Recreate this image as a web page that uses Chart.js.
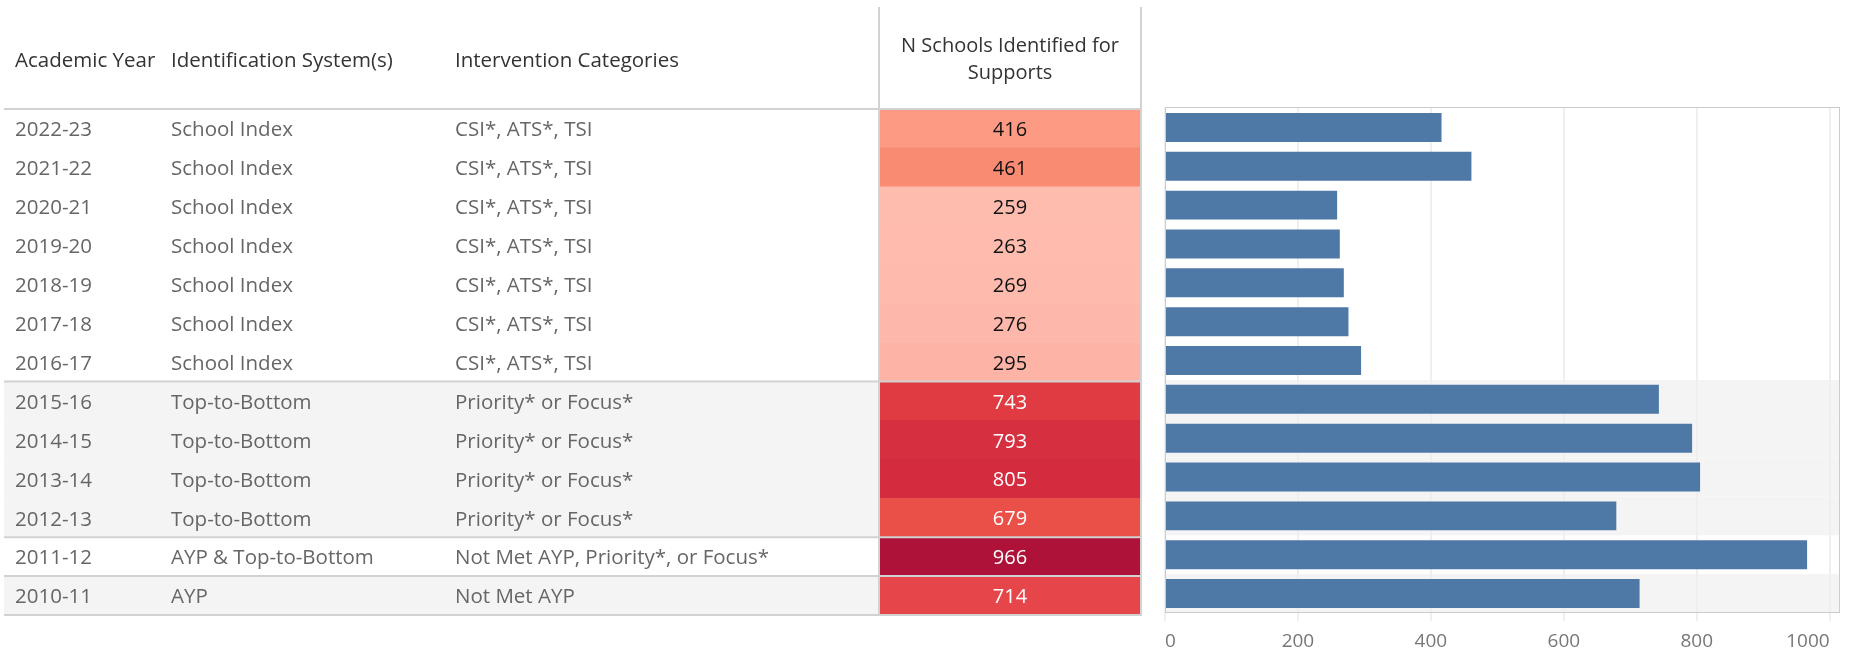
<!DOCTYPE html>
<html>
<head>
<meta charset="utf-8">
<script src="https://cdn.jsdelivr.net/npm/chart.js@4.4.1/dist/chart.umd.min.js"></script>
<style>
html,body{margin:0;padding:0;background:#fff;}
#wrap{position:relative;width:1853px;height:652px;overflow:hidden;background:#fff;}
#wrap canvas{position:absolute;left:0;top:0;}
</style>
</head>
<body>
<div id="wrap">
  <canvas id="tbl" width="1853" height="652"></canvas>
  <canvas id="bars" width="1853" height="652"></canvas>
</div>
<script>
// ---------------- DATA ----------------
const years = ['2022-23','2021-22','2020-21','2019-20','2018-19','2017-18','2016-17',
               '2015-16','2014-15','2013-14','2012-13','2011-12','2010-11'];
const systems = ['School Index','School Index','School Index','School Index','School Index','School Index','School Index',
                 'Top-to-Bottom','Top-to-Bottom','Top-to-Bottom','Top-to-Bottom',
                 'AYP & Top-to-Bottom','AYP'];
const interventions = ['CSI*, ATS*, TSI','CSI*, ATS*, TSI','CSI*, ATS*, TSI','CSI*, ATS*, TSI','CSI*, ATS*, TSI','CSI*, ATS*, TSI','CSI*, ATS*, TSI',
                       'Priority* or Focus*','Priority* or Focus*','Priority* or Focus*','Priority* or Focus*',
                       'Not Met AYP, Priority*, or Focus*','Not Met AYP'];
const nSchools = [416, 461, 259, 263, 269, 276, 295, 743, 793, 805, 679, 966, 714];
const columnHeaders = ['Academic Year', 'Identification System(s)', 'Intervention Categories'];
const measureHeader = ['N Schools Identified for', 'Supports'];
const valueTicks = [0, 200, 400, 600, 800, 1000];
const axisMax = 1014;

// ---------------- STYLE ----------------
const FONT = "'Open Sans', sans-serif";
Chart.defaults.font.family = FONT;
const HEADER_COLOR = '#333333';
const ROW_TEXT = '#666666';
const BAND = '#F4F4F4';
const RULE = '#D2D2D2';
const BAR_COLOR = '#4E79A7';
const TABLE_LEFT = 4;
const TEXT_SHIFT = 2;
const heatStops = [
  [259, '#FEBCAF'], [295, '#FDB4A6'], [416, '#FC9A84'], [461, '#FA8B73'],
  [679, '#EB5048'], [714, '#E6464A'], [743, '#E03B42'], [805, '#D42C3E'], [966, '#AE1238']
];
function hexRgb(h){ return [1,3,5].map(k => parseInt(h.substr(k,2),16)); }
function heatRgb(v){
  if (v <= heatStops[0][0]) return hexRgb(heatStops[0][1]);
  for (let k = 1; k < heatStops.length; k++){
    if (v <= heatStops[k][0]){
      const [v0,c0] = heatStops[k-1], [v1,c1] = heatStops[k];
      const t = (v - v0) / (v1 - v0);
      const a = hexRgb(c0), b = hexRgb(c1);
      return a.map((x,j) => Math.round(x + (b[j]-x)*t));
    }
  }
  return hexRgb(heatStops[heatStops.length-1][1]);
}
function heatColor(v){ const c = heatRgb(v); return `rgb(${c[0]},${c[1]},${c[2]})`; }
function heatText(v){ const c = heatRgb(v); const br = (0.299*c[0]+0.587*c[1]+0.114*c[2])/255; return br < 0.6 ? '#FFFFFF' : '#111111'; }

// group membership (banding alternates per identification-system group)
const groupOf = [];
systems.forEach((s,i) => { groupOf.push(i === 0 ? 0 : groupOf[i-1] + (s !== systems[i-1] ? 1 : 0)); });

// ---------------- TABLE + HEAT COLUMN ----------------
const tablePlugin = {
  id: 'tablePlugin',
  beforeDraw(chart){
    const y = chart.scales.y, ctx = chart.ctx, ca = chart.chartArea;
    ctx.save();
    ctx.fillStyle = BAND;
    years.forEach((_, i) => {
      if (groupOf[i] % 2 === 1){
        const t = y.getPixelForValue(i - 0.5), b = y.getPixelForValue(i + 0.5);
        ctx.fillRect(TABLE_LEFT, t, ca.left - TABLE_LEFT, b - t);
      }
    });
    ctx.restore();
  },
  afterDraw(chart){
    const y = chart.scales.y, x = chart.scales.x, ctx = chart.ctx, ca = chart.chartArea;
    ctx.save();
    // values in heat cells
    ctx.font = `20px ${FONT}`;
    ctx.textAlign = 'center';
    ctx.textBaseline = 'middle';
    const cx = (x.getPixelForValue(0) + x.getPixelForValue(1)) / 2;
    nSchools.forEach((v, i) => {
      ctx.fillStyle = heatText(v);
      ctx.fillText(String(v), cx, y.getPixelForValue(i) + TEXT_SHIFT);
    });
    // column headers
    ctx.fillStyle = HEADER_COLOR;
    ctx.textAlign = 'left';
    ctx.font = `20.5px ${FONT}`;
    ['yYear','ySys','yCat'].forEach((id, k) => {
      ctx.fillText(columnHeaders[k], chart.scales[id].left, 61);
    });
    // rules
    ctx.strokeStyle = RULE;
    ctx.lineWidth = 2;
    const bounds = [-0.5];
    for (let i = 1; i < years.length; i++) if (groupOf[i] !== groupOf[i-1]) bounds.push(i - 0.5);
    bounds.push(years.length - 0.5);
    ctx.beginPath();
    bounds.forEach(b => {
      const py = y.getPixelForValue(b);
      ctx.moveTo(TABLE_LEFT, py); ctx.lineTo(ca.right + 1, py);
    });
    const bottom = y.getPixelForValue(years.length - 0.5);
    ctx.moveTo(ca.left, 7); ctx.lineTo(ca.left, bottom);
    ctx.moveTo(ca.right, 7); ctx.lineTo(ca.right, bottom);
    ctx.stroke();
    ctx.restore();
  }
};

const catAxis = (labels, weight, width) => ({
  type: 'category', labels: labels, position: 'left', weight: weight, offset: true,
  min: 0, max: labels.length - 1,
  grid: { display: false }, border: { display: false },
  ticks: { crossAlign: 'far', color: ROW_TEXT, font: { size: 20.5 }, autoSkip: false, padding: 0,
           labelOffset: TEXT_SHIFT },
  afterFit(s){ s.width = width; }
});

new Chart(document.getElementById('tbl'), {
  type: 'bar',
  data: {
    labels: years,
    datasets: [{
      data: nSchools.map(() => [0, 1]),
      backgroundColor: nSchools.map(heatColor),
      barPercentage: 1, categoryPercentage: 1, borderWidth: 0, borderSkipped: false,
      xAxisID: 'x', yAxisID: 'y'
    }]
  },
  options: {
    indexAxis: 'y', responsive: false, animation: false, devicePixelRatio: 1,
    layout: { padding: { left: 15, right: 712, top: 0, bottom: 37 } },
    plugins: { legend: { display: false }, tooltip: { enabled: false } },
    scales: {
      x: {
        type: 'linear', position: 'top', min: 0, max: 1,
        ticks: { display: false }, grid: { display: false }, border: { display: false },
        title: { display: true, text: measureHeader, color: HEADER_COLOR,
                 font: { size: 20, lineHeight: 1.35 }, padding: { top: 33, bottom: 0 } },
        afterFit(s){ s.height = 109; }
      },
      yYear: catAxis(years, 3, 156),
      ySys: catAxis(systems, 2, 284),
      yCat: catAxis(interventions, 1, 424),
      y: { type: 'category', display: false, offset: true }
    }
  },
  plugins: [tablePlugin]
});

// ---------------- BAR CHART ----------------
const barsPlugin = {
  id: 'barsPlugin',
  beforeDraw(chart){
    const y = chart.scales.y, ctx = chart.ctx, ca = chart.chartArea;
    ctx.save();
    ctx.fillStyle = BAND;
    years.forEach((_, i) => {
      if (groupOf[i] % 2 === 1){
        const t = y.getPixelForValue(i - 0.5), b = y.getPixelForValue(i + 0.5);
        ctx.fillRect(ca.left, t, ca.right - ca.left, b - t);
      }
    });
    ctx.restore();
  },
  beforeDatasetsDraw(chart){
    const ctx = chart.ctx, ca = chart.chartArea;
    ctx.save();
    ctx.strokeStyle = '#CCCCCC';
    ctx.lineWidth = 1;
    ctx.strokeRect(Math.round(ca.left) + 0.5, Math.round(ca.top) - 0.5,
                   Math.round(ca.right - ca.left), Math.round(ca.bottom - ca.top));
    ctx.restore();
  }
};

new Chart(document.getElementById('bars'), {
  type: 'bar',
  data: {
    labels: years,
    datasets: [{
      data: nSchools, backgroundColor: BAR_COLOR,
      barPercentage: 0.746, categoryPercentage: 1, borderWidth: 0
    }]
  },
  options: {
    indexAxis: 'y', responsive: false, animation: false, devicePixelRatio: 1,
    layout: { padding: { left: 1165, right: 14, top: 108, bottom: 0 } },
    plugins: { legend: { display: false }, tooltip: { enabled: false } },
    scales: {
      y: { type: 'category', display: false, offset: true },
      x: {
        type: 'linear', position: 'bottom', min: 0, max: axisMax,
        afterBuildTicks(s){ s.ticks = valueTicks.map(v => ({ value: v })); },
        afterFit(s){ s.height = 39; },
        ticks: { align: 'inner', color: '#777777', font: { size: 19 }, padding: 9,
                 callback: (v) => String(v) },
        grid: { color: '#EFEFEF', lineWidth: 2, tickLength: 8, drawTicks: true },
        border: { display: false }
      }
    }
  },
  plugins: [barsPlugin]
});
</script>
</body>
</html>
